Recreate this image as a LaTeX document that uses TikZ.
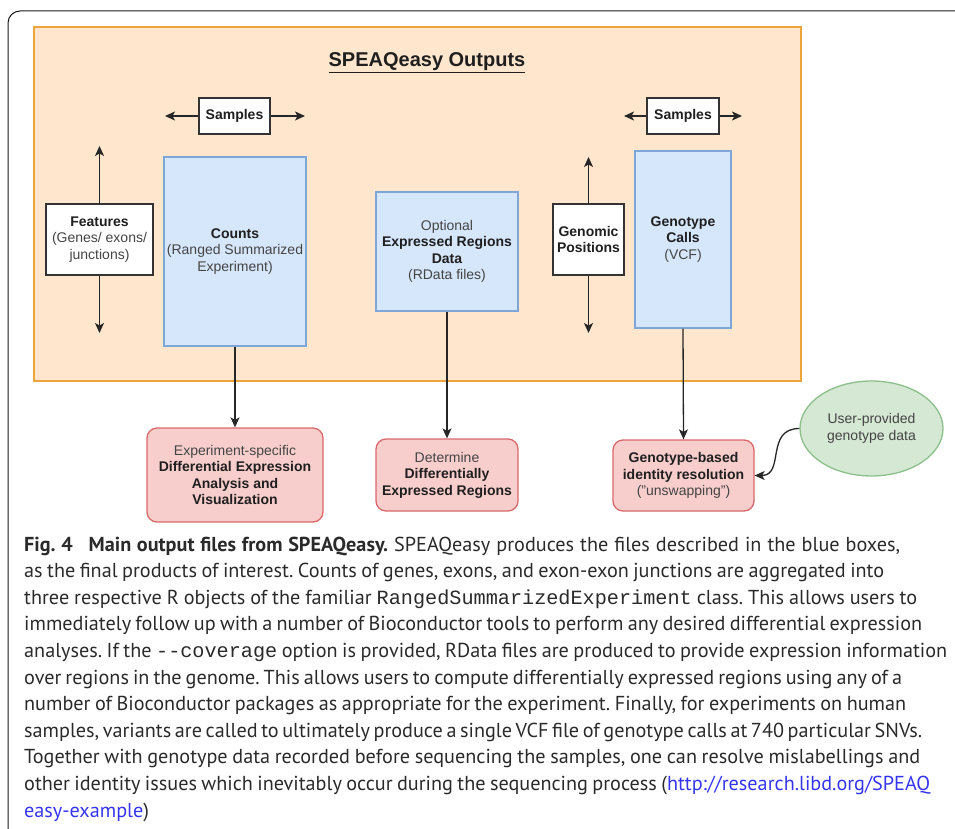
\documentclass[tikz,border=0pt]{standalone}
\usepackage{fontspec}
\setmainfont{Liberation Sans}
\newfontfamily\capfont{PT Sans}
\setmonofont{Liberation Mono}
\usetikzlibrary{arrows.meta,shapes.geometric}
\definecolor{orfill}{HTML}{FFE6CC}
\definecolor{ordraw}{HTML}{EBA53A}
\definecolor{blfill}{HTML}{D6E7FB}
\definecolor{bldraw}{HTML}{7EA6D8}
\definecolor{pkfill}{HTML}{F8CECC}
\definecolor{pkdraw}{HTML}{D9686A}
\definecolor{grfill}{HTML}{D5E8D4}
\definecolor{grdraw}{HTML}{8CC08A}
\definecolor{linkblue}{HTML}{3535EE}
\definecolor{regtxt}{HTML}{444444}
\definecolor{captxt}{HTML}{2A2A2A}
\tikzset{
  dfont/.style={font=\fontsize{14}{16.5}\selectfont},
  basebox/.style={dfont, align=center, inner sep=0pt, text=black!88},
  whitebox/.style={basebox, draw=black!80, fill=white, line width=1.3pt},
  bluebox/.style={basebox, draw=bldraw, fill=blfill, line width=1.3pt},
  pinkbox/.style={basebox, draw=pkdraw, fill=pkfill, line width=1.3pt, rounded corners=10pt},
  greenell/.style={basebox, ellipse, draw=grdraw, fill=grfill, line width=1.3pt},
  arr/.style={-{Stealth[length=10pt,width=9pt,inset=2.5pt]}, line width=1.3pt, draw=black!85},
  capline/.style={anchor=base west, inner sep=0pt, text=captxt, font=\capfont\fontsize{20.2}{25}\selectfont\frenchspacing}
}
\begin{document}
\begin{tikzpicture}[x=1pt,y=-1pt]
\useasboundingbox (0,0) rectangle (955,829);
% outer frame
\draw[line width=1pt, rounded corners=12pt, black!90] (955,11) -- (8,11) -- (8,829);
% orange container
\node[draw=ordraw, fill=orfill, line width=1.3pt, minimum width=767pt, minimum height=354pt, inner sep=0pt] (outbox) at (417.5,204) {};
\node[font=\fontsize{20}{24}\selectfont\bfseries, text=black!88, inner sep=0pt] (title) at (427,63) {\underline{SPEAQeasy Outputs}};
% boxes
\node[whitebox, minimum width=71pt, minimum height=36pt] (samplesL) at (234.5,116) {\textbf{Samples}};
\node[whitebox, minimum width=107pt, minimum height=71pt] (features) at (99.5,239.5) {\textbf{Features}\\{\color{regtxt}(Genes/ exons/}\\{\color{regtxt}junctions)}};
\node[bluebox, minimum width=142pt, minimum height=189pt] (counts) at (235,251.5) {\textbf{Counts}\\{\color{regtxt}(Ranged Summarized}\\{\color{regtxt}Experiment)}};
\node[bluebox, minimum width=142pt, minimum height=119pt] (optional) at (447,251.5) {{\color{regtxt}Optional}\\\textbf{Expressed Regions}\\\textbf{Data}\\{\color{regtxt}(RData files)}};
\node[whitebox, minimum width=71pt, minimum height=71pt] (genomic) at (588.5,239.5) {\textbf{Genomic}\\\textbf{Positions}};
\node[bluebox, minimum width=96pt, minimum height=177pt] (genocalls) at (683,239.5) {\textbf{Genotype}\\\textbf{Calls}\\{\color{regtxt}(VCF)}};
\node[whitebox, minimum width=72pt, minimum height=36pt] (samplesR) at (683,116) {\textbf{Samples}};
\node[pinkbox, minimum width=176pt, minimum height=94pt] (exper) at (235,475) {{\color{regtxt}Experiment-specific}\\\textbf{Differential Expression}\\\textbf{Analysis and}\\\textbf{Visualization}};
\node[pinkbox, minimum width=142pt, minimum height=72pt] (determine) at (447,475) {{\color{regtxt}Determine}\\\textbf{Differentially}\\\textbf{Expressed Regions}};
\node[pinkbox, minimum width=141pt, minimum height=71pt] (genores) at (683.5,475.5) {\textbf{Genotype-based}\\\textbf{identity resolution}\\{\color{regtxt}("unswapping")}};
\node[greenell, minimum width=143pt, minimum height=95pt] (user) at (871.5,428.5) {{\color{regtxt}User-provided}\\{\color{regtxt}genotype data}};
% free ends of the axis arrows
\coordinate (sLl) at (165,116);
\coordinate (sLr) at (305,116);
\coordinate (sRl) at (624,116);
\coordinate (sRr) at (742,116);
\coordinate (fU) at (99.5,146);
\coordinate (fD) at (99.5,333);
\coordinate (gU) at (588.5,157);
\coordinate (gD) at (588.5,333);
\draw[arr] (samplesL.west) -- (sLl);
\draw[arr] (samplesL.east) -- (sLr);
\draw[arr] (samplesR.west) -- (sRl);
\draw[arr] (samplesR.east) -- (sRr);
\draw[arr] (features.north) -- (fU);
\draw[arr] (features.south) -- (fD);
\draw[arr] (genomic.north) -- (gU);
\draw[arr] (genomic.south) -- (gD);
% flows
\draw[arr] (counts.south) -- (exper.north);
\draw[arr] (optional.south) -- (determine.north);
\draw[arr] (genocalls.south) -- (genores.north);
\draw[arr] (user.west) .. controls (765,428.5) and (785,475.5) .. (genores.east);
% caption
\node[capline] (c1) at (24,551) {\hbox to 876pt{\textbf{Fig. 4\hspace{0.5em} Main output files from SPEAQeasy.} SPEAQeasy produces the files described in the blue boxes,}};
\node[capline] (c2) at (24,577.6) {\hbox to 860pt{as the final products of interest. Counts of genes, exons, and exon-exon junctions are aggregated into}};
\node[capline] (c3) at (24,604.2) {\hbox to 893pt{three respective R objects of the familiar \texttt{RangedSummarizedExperiment} class. This allows users to}};
\node[capline] (c4) at (24,630.8) {\hbox to 898pt{immediately follow up with a number of Bioconductor tools to perform any desired differential expression}};
\node[capline] (c5) at (24,657.4) {\hbox to 923pt{analyses. If the \texttt{-{}-coverage} option is provided, RData files are produced to provide expression information}};
\node[capline] (c6) at (24,684) {\hbox to 878pt{over regions in the genome. This allows users to compute differentially expressed regions using any of a}};
\node[capline] (c7) at (24,710.6) {\hbox to 882pt{number of Bioconductor packages as appropriate for the experiment. Finally, for experiments on human}};
\node[capline] (c8) at (24,737.2) {\hbox to 896pt{samples, variants are called to ultimately produce a single VCF file of genotype calls at 740 particular SNVs.}};
\node[capline] (c9) at (24,763.8) {\hbox to 896pt{Together with genotype data recorded before sequencing the samples, one can resolve mislabellings and}};
\node[capline] (c10) at (24,790.4) {\hbox to 906pt{other identity issues which inevitably occur during the sequencing process ({\color{linkblue}http://research.libd.org/SPEAQ}}};
\node[capline] (c11) at (24,817) {{\color{linkblue}easy-example})};
\end{tikzpicture}
\end{document}
